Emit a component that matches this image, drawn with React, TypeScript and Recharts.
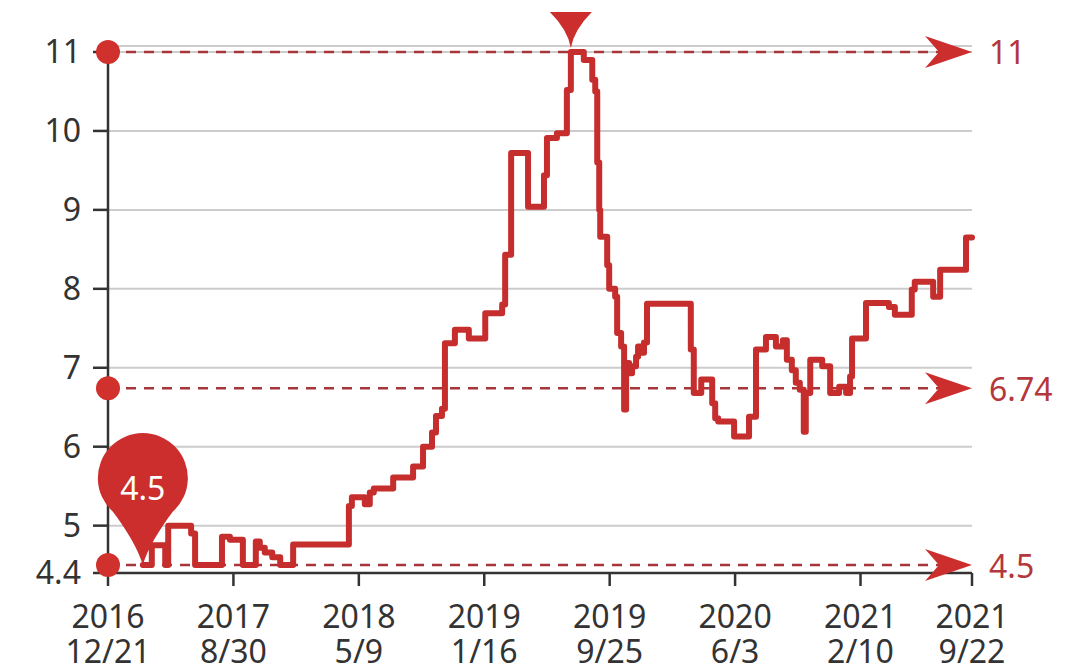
import {
  CartesianGrid,
  Line,
  LineChart,
  ReferenceDot,
  ReferenceLine,
  XAxis,
  YAxis,
} from "recharts";

// x = days since 2016-12-21
const tickDays = [0, 252, 504, 756, 1008, 1260, 1512, 1736];
const tickYears = ["2016", "2017", "2018", "2019", "2019", "2020", "2021", "2021"];
const tickDates = ["12/21", "8/30", "5/9", "1/16", "9/25", "6/3", "2/10", "9/22"];
const yTicks = [4.4, 5, 6, 7, 8, 9, 10, 11];
const yMax = 11.076;

const days = [
  70, 88, 115, 121, 167, 175, 229, 245, 271, 297,
  305, 315, 330, 346, 372, 484, 490, 516, 526, 534,
  573, 613, 633, 651, 659, 671, 677, 697, 725, 758,
  792, 798, 810, 844, 876, 882, 902, 922, 930, 956,
  973, 979, 983, 987, 989, 1003, 1007, 1019, 1023, 1031,
  1037, 1041, 1047, 1053, 1061, 1065, 1071, 1077, 1083, 1171,
  1177, 1192, 1214, 1220, 1226, 1258, 1288, 1302, 1322, 1342,
  1356, 1364, 1374, 1382, 1390, 1398, 1402, 1411, 1435, 1451,
  1469, 1483, 1491, 1495, 1523, 1569, 1581, 1615, 1621, 1658,
  1672, 1724, 1736,
];
const values = [
  4.5, 4.75, 4.5, 5.0, 4.9, 4.5, 4.86, 4.82, 4.5, 4.8,
  4.72, 4.66, 4.6, 4.5, 4.76, 5.25, 5.36, 5.27, 5.42, 5.47,
  5.61, 5.75, 6.0, 6.18, 6.39, 6.48, 7.31, 7.48, 7.37, 7.69,
  7.8, 8.43, 9.72, 9.04, 9.44, 9.91, 9.97, 10.52, 11.0, 10.9,
  10.65, 10.5, 9.6, 9.0, 8.66, 8.3, 8.0, 7.9, 7.44, 7.27,
  6.47, 7.06, 6.93, 7.02, 7.14, 7.27, 7.19, 7.32, 7.81, 7.23,
  6.68, 6.85, 6.55, 6.36, 6.32, 6.13, 6.38, 7.23, 7.39, 7.27,
  7.35, 7.1, 6.97, 6.81, 6.72, 6.19, 6.68, 7.1, 7.02, 6.68,
  6.76, 6.68, 6.89, 7.37, 7.82, 7.77, 7.67, 7.99, 8.09, 7.9,
  8.24, 8.65, 8.65,
];

// max / average / min guide lines
const refLevels = [11, 6.74, 4.5];
const refLabels = ["11", "6.74", "4.5"];

const FONT = "'Noto Sans', 'Open Sans', sans-serif";
const RED = "#c62d2d";

const data = days.map((d, i) => ({ day: d, value: values[i] }));
const minVal = Math.min(...values);
const maxVal = Math.max(...values);
const minIdx = values.indexOf(minVal);
const maxIdx = values.indexOf(maxVal);

function DateTick({ x, y, payload }: any) {
  const i = tickDays.indexOf(payload.value);
  return (
    <g>
      <text x={x} y={y + 29} textAnchor="middle" dominantBaseline="central" fontSize={32} fill="#333" fontFamily={FONT}>
        {tickYears[i]}
      </text>
      <text x={x} y={y + 64} textAnchor="middle" dominantBaseline="central" fontSize={32} fill="#333" fontFamily={FONT}>
        {tickDates[i]}
      </text>
    </g>
  );
}

function pinPath(x: number, y: number) {
  const r = 45;
  const cy = y - 87;
  const a = (42 * Math.PI) / 180;
  const sx = r * Math.sin(a);
  const sy = cy + r * Math.cos(a);
  return (
    `M ${x - sx} ${sy} A ${r} ${r} 0 1 1 ${x + sx} ${sy} ` +
    `C ${x + sx - 13} ${sy + 17} ${x + 4} ${y - 15} ${x} ${y} ` +
    `C ${x - 4} ${y - 15} ${x - sx + 13} ${sy + 17} ${x - sx} ${sy} Z`
  );
}

function MinPin({ cx, cy }: any) {
  return (
    <g>
      <path d={pinPath(cx, cy)} fill="#cc2e2e" />
      <text x={cx} y={cy - 78} textAnchor="middle" dominantBaseline="central" fontSize={32} fill="#fff" fontFamily={FONT}>
        {minVal}
      </text>
    </g>
  );
}

function MaxMark({ cx, cy }: any) {
  const d = `M ${cx - 21} ${cy - 40} L ${cx + 21} ${cy - 40} Q ${cx + 3} ${cy - 22} ${cx} ${cy - 4} Q ${cx - 3} ${cy - 22} ${cx - 21} ${cy - 40} Z`;
  return <path d={d} fill="#cc2e2e" />;
}

function ArrowEnd({ cx, cy, label }: any) {
  const d = `M ${cx} ${cy} L ${cx - 47} ${cy - 16} L ${cx - 33} ${cy} L ${cx - 47} ${cy + 16} Z`;
  return (
    <g>
      <path d={d} fill="#cc2e2e" />
      <text x={cx + 17} y={cy} dominantBaseline="central" fontSize={32} fill="#b4373b" fontFamily={FONT}>
        {label}
      </text>
    </g>
  );
}

export default function App() {
  return (
    <div style={{ width: 1080, height: 671, background: "#fff" }}>
      <style>{"body{margin:0}"}</style>
      <LineChart width={1080} height={671} data={data} margin={{ top: 46, right: 108, bottom: 0, left: 0 }}>
        <CartesianGrid vertical={false} stroke="#cccccc" strokeWidth={2} />
        <ReferenceLine y={yMax} stroke="#cccccc" strokeWidth={2} />
        <XAxis
          type="number"
          dataKey="day"
          domain={[0, 1736]}
          ticks={tickDays}
          height={98}
          tickSize={13}
          tickMargin={0}
          axisLine={{ stroke: "#333", strokeWidth: 2.5 }}
          tickLine={{ stroke: "#333", strokeWidth: 2.5 }}
          tick={<DateTick />}
        />
        <YAxis
          type="number"
          domain={[4.4, yMax]}
          ticks={yTicks}
          width={108}
          tickSize={15}
          tickMargin={12}
          axisLine={{ stroke: "#333", strokeWidth: 2.5 }}
          tickLine={{ stroke: "#333", strokeWidth: 2.5 }}
          tick={{ fontSize: 32, fill: "#333", fontFamily: FONT }}
        />
        {refLevels.map((v) => (
          <ReferenceLine key={`l${v}`} y={v} stroke="#a8353b" strokeWidth={2.5} strokeDasharray="10 8" />
        ))}
        <Line
          type="stepAfter"
          dataKey="value"
          stroke={RED}
          strokeWidth={6}
          strokeLinejoin="round"
          strokeLinecap="round"
          dot={false}
          activeDot={false}
          isAnimationActive={false}
        />
        {refLevels.map((v) => (
          <ReferenceDot key={`d${v}`} x={0} y={v} r={12} fill="#d0312d" stroke="none" />
        ))}
        {refLevels.map((v, i) => (
          <ReferenceDot
            key={`a${v}`}
            x={1736}
            y={v}
            shape={(p: any) => <ArrowEnd cx={p.cx} cy={p.cy} label={refLabels[i]} />}
          />
        ))}
        <ReferenceDot x={days[maxIdx]} y={maxVal} shape={(p: any) => <MaxMark cx={p.cx} cy={p.cy} />} />
        <ReferenceDot x={days[minIdx]} y={minVal} shape={(p: any) => <MinPin cx={p.cx} cy={p.cy} />} />
      </LineChart>
    </div>
  );
}
